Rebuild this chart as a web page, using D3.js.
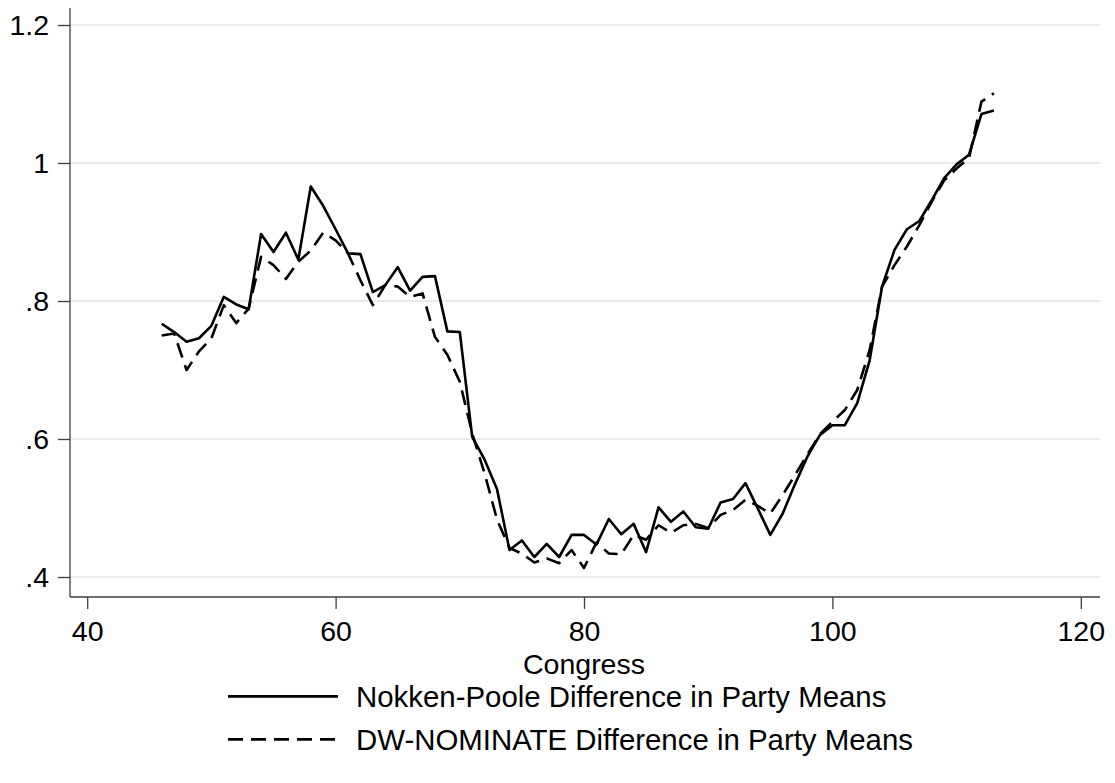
<!DOCTYPE html>
<html>
<head>
<meta charset="utf-8">
<script src="https://cdn.jsdelivr.net/npm/d3@7"></script>
<style>
  html, body { margin: 0; padding: 0; background: #fff; }
  svg { display: block; }
  text { font-family: "Liberation Sans", Arial, Helvetica, sans-serif; fill: #000; }
</style>
</head>
<body>
<svg id="chart" width="1115" height="783"></svg>
<script>
// Congresses covered by both measures
const congresses = d3.range(46, 114);

// Nokken-Poole difference in party means, congresses 46-113
const nokkenPoole = [
  0.767, 0.755, 0.741, 0.746, 0.764, 0.806, 0.795, 0.788, 0.897, 0.871,
  0.899, 0.860, 0.966, 0.938, 0.904, 0.869, 0.868, 0.813, 0.823, 0.849,
  0.815, 0.835, 0.836, 0.756, 0.755, 0.603, 0.570, 0.527, 0.439, 0.453,
  0.429, 0.448, 0.429, 0.461, 0.461, 0.447, 0.484, 0.462, 0.477, 0.436,
  0.501, 0.480, 0.495, 0.472, 0.470, 0.508, 0.513, 0.536, 0.499, 0.461,
  0.492, 0.535, 0.575, 0.606, 0.620, 0.620, 0.652, 0.714, 0.821, 0.874,
  0.904, 0.916, 0.946, 0.978, 0.998, 1.012, 1.071, 1.076
];

// DW-NOMINATE difference in party means, congresses 46-113
const dwNominate = [
  0.750, 0.753, 0.700, 0.727, 0.746, 0.794, 0.768, 0.789, 0.864, 0.852,
  0.832, 0.857, 0.873, 0.899, 0.888, 0.869, 0.830, 0.794, 0.823, 0.821,
  0.806, 0.811, 0.748, 0.722, 0.683, 0.608, 0.550, 0.483, 0.442, 0.434,
  0.421, 0.427, 0.420, 0.439, 0.413, 0.450, 0.434, 0.433, 0.461, 0.454,
  0.475, 0.464, 0.475, 0.477, 0.471, 0.490, 0.497, 0.512, 0.503, 0.492,
  0.519, 0.548, 0.578, 0.607, 0.625, 0.642, 0.671, 0.729, 0.821, 0.852,
  0.879, 0.910, 0.944, 0.975, 0.992, 1.007, 1.089, 1.101
];

const xTicks = [40, 60, 80, 100, 120];
const yTicks = [0.4, 0.6, 0.8, 1.0, 1.2];
const yTickLabels = [".4", ".6", ".8", "1", "1.2"];
const seriesNames = [
  "Nokken-Poole Difference in Party Means",
  "DW-NOMINATE Difference in Party Means"
];

const axisFont = 28.5;
const legendFont = 29.4;
const svg = d3.select("#chart");

// plot region edges
const plotLeft = 70, plotRight = 1100, plotTop = 8, plotBottom = 597;

const x = d3.scaleLinear().domain([40, 120]).range([87.2, 1080.8]);
const y = d3.scaleLinear().domain([0.4, 1.2]).range([577, 25]);

// horizontal grid
svg.append("g")
  .selectAll("line")
  .data(yTicks)
  .join("line")
  .attr("x1", plotLeft).attr("x2", plotRight)
  .attr("y1", d => y(d)).attr("y2", d => y(d))
  .attr("stroke", "#eaeaea")
  .attr("stroke-width", 2);

// y axis
const yAxis = d3.axisLeft(y)
  .tickValues(yTicks)
  .tickFormat((d, i) => yTickLabels[i])
  .tickSize(12)
  .tickPadding(9);
const gy = svg.append("g")
  .attr("transform", `translate(${plotLeft},0)`)
  .call(yAxis);
gy.select(".domain").remove();
gy.append("line")
  .attr("x1", 0).attr("x2", 0)
  .attr("y1", plotTop).attr("y2", plotBottom)
  .attr("stroke", "#404040").attr("stroke-width", 1.3);
gy.selectAll(".tick line").attr("stroke", "#404040").attr("stroke-width", 1.3);
gy.selectAll(".tick text")
  .attr("font-size", axisFont)
  .attr("fill", "#000")
  .style("font-family", "'Liberation Sans', Arial, sans-serif");

// x axis
const xAxis = d3.axisBottom(x)
  .tickValues(xTicks)
  .tickFormat(d3.format("d"))
  .tickSize(12)
  .tickPadding(12);
const gx = svg.append("g")
  .attr("transform", `translate(0,${plotBottom})`)
  .call(xAxis);
gx.select(".domain").remove();
gx.append("line")
  .attr("x1", plotLeft).attr("x2", plotRight)
  .attr("y1", 0).attr("y2", 0)
  .attr("stroke", "#404040").attr("stroke-width", 1.3);
gx.selectAll(".tick line").attr("stroke", "#404040").attr("stroke-width", 1.3);
gx.selectAll(".tick text")
  .attr("font-size", axisFont)
  .attr("fill", "#000")
  .style("font-family", "'Liberation Sans', Arial, sans-serif");

svg.append("text")
  .attr("x", x(80))
  .attr("y", 674)
  .attr("text-anchor", "middle")
  .attr("font-size", axisFont)
  .text("Congress");

// series lines
const line = d3.line()
  .x((d, i) => x(congresses[i]))
  .y(d => y(d));

svg.append("path")
  .datum(dwNominate)
  .attr("fill", "none")
  .attr("stroke", "#000")
  .attr("stroke-width", 2.6)
  .attr("stroke-dasharray", "15,8")
  .attr("stroke-linejoin", "round")
  .attr("d", line);

svg.append("path")
  .datum(nokkenPoole)
  .attr("fill", "none")
  .attr("stroke", "#000")
  .attr("stroke-width", 2.6)
  .attr("stroke-linejoin", "round")
  .attr("d", line);

// legend
const legend = svg.append("g");
const legendRows = [
  { name: seriesNames[0], dash: null, base: 707 },
  { name: seriesNames[1], dash: "15,8", base: 750 }
];
legendRows.forEach(r => {
  const cy = r.base - legendFont * 0.36;
  legend.append("line")
    .attr("x1", 228).attr("x2", 338)
    .attr("y1", cy).attr("y2", cy)
    .attr("stroke", "#000")
    .attr("stroke-width", 2.6)
    .attr("stroke-dasharray", r.dash);
  legend.append("text")
    .attr("x", 356)
    .attr("y", r.base)
    .attr("font-size", legendFont)
    .text(r.name);
});
</script>
</body>
</html>
